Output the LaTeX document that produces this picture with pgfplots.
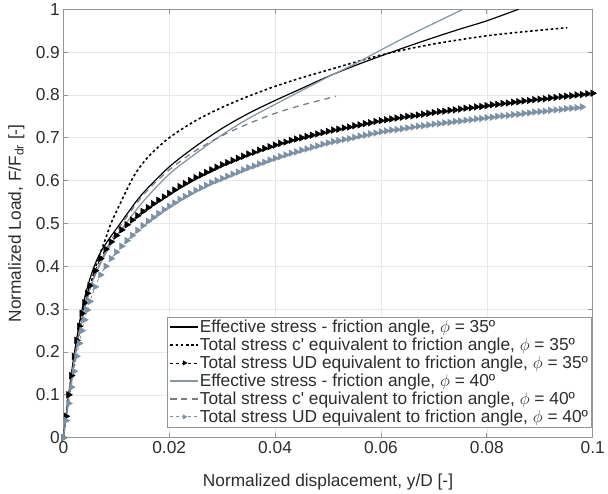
\documentclass[border=0pt]{standalone}
\usepackage{fontspec}
\setmainfont{Liberation Sans}
\usepackage{pgfplots}
\pgfplotsset{compat=1.18}
\definecolor{axgray}{RGB}{150,150,150}
\definecolor{txtgray}{RGB}{45,45,45}
\definecolor{gridgray}{RGB}{232,232,232}
\definecolor{line40}{RGB}{140,150,160}
\definecolor{dash40}{RGB}{120,125,135}
\definecolor{tri40}{RGB}{125,145,165}
\newcommand{\fs}{\fontsize{17.5bp}{17.5bp}\selectfont}
\begin{document}
\begin{tikzpicture}
\begin{axis}[
  scale only axis, width=535bp, height=433bp,
  xmin=0, xmax=0.1, ymin=0, ymax=1,
  xtick={0,0.02,0.04,0.06,0.08,0.1},
  xticklabels={0,0.02,0.04,0.06,0.08,0.1},
  ytick={0,0.1,0.2,0.3,0.4,0.5,0.6,0.7,0.8,0.9,1},
  yticklabels={0,0.1,0.2,0.3,0.4,0.5,0.6,0.7,0.8,0.9,1},
  tick label style={font=\fs, text=txtgray},
  grid=major, major grid style={gridgray, line width=0.6bp},
  axis line style={axgray, line width=0.7bp},
  tick style={axgray, line width=0.7bp},
  tick align=inside, major tick length=5bp,
  xlabel={Normalized displacement, y/D [-]},
  ylabel={Normalized Load, F/F\textsubscript{dr} [-]},
  label style={font=\fs, text=txtgray},
  xlabel style={at={(axis description cs:0.5,-0.1132)}, anchor=base},
  ylabel style={at={(axis description cs:-0.0804,0.5)}, anchor=base, rotate=0},
  legend cell align=left,
  legend style={at={(rel axis cs:0.997,0.025)}, anchor=south east, draw=axgray, fill=white,
    font=\fs, text=txtgray, row sep=2.2bp, inner sep=2bp, nodes={inner sep=0.9bp}},
  legend image code/.code={\draw[mark repeat=2,mark phase=2,#1] plot coordinates {(0bp,0bp) (14bp,0bp) (28bp,0bp)};},
]
% Effective stress 35
\addplot[black, line width=1.2bp, smooth] coordinates {
(0,0) (0.001,0.10) (0.002,0.19) (0.003,0.265) (0.004,0.325) (0.005,0.37) (0.006,0.405) (0.007,0.432) (0.008,0.452) (0.009,0.47) (0.01,0.487) (0.0125,0.53) (0.015,0.57) (0.02,0.632) (0.025,0.68) (0.03,0.722) (0.035,0.757) (0.04,0.787) (0.045,0.815) (0.05,0.843) (0.055,0.868) (0.06,0.891) (0.065,0.913) (0.07,0.934) (0.075,0.954) (0.08,0.973) (0.086,1.0)};
\addlegendentry{Effective stress - friction angle, $\phi$ = 35º}
% Total stress c' 35
\addplot[black, line width=1.6bp, dash pattern=on 2.6bp off 2.6bp, smooth] coordinates {
(0,0) (0.001,0.09) (0.002,0.17) (0.003,0.245) (0.004,0.305) (0.005,0.35) (0.0064,0.41) (0.008,0.465) (0.009,0.5) (0.0105,0.54) (0.0133,0.61) (0.016,0.655) (0.02,0.70) (0.025,0.740) (0.03,0.771) (0.035,0.797) (0.04,0.82) (0.045,0.84) (0.05,0.858) (0.055,0.876) (0.06,0.893) (0.065,0.907) (0.07,0.919) (0.075,0.929) (0.08,0.938) (0.085,0.945) (0.09,0.951) (0.0952,0.957)};
\addlegendentry{Total stress c\textquotesingle{} equivalent to friction angle, $\phi$ = 35º}
% Total stress UD 35
\addplot[black, dashed, line width=0.8bp, mark=triangle*, mark size=3.8bp, mark options={solid, rotate=-90, line width=0.5bp, fill=black}, legend image post style={mark size=2.6bp}] table {
0 0
0.0005 0.05
0.001 0.10
0.0015 0.145
0.002 0.19
0.0025 0.227
0.003 0.26
0.0035 0.29
0.004 0.315
0.0045 0.337
0.005 0.355
0.006 0.39
0.007 0.418
0.008 0.44
0.009 0.457
0.010 0.472
0.011 0.485
0.012 0.497
0.013 0.508
0.014 0.518
0.015 0.528
0.016 0.537
0.017 0.546
0.018 0.554
0.019 0.562
0.020 0.570
0.021 0.578
0.022 0.586
0.023 0.593
0.024 0.600
0.025 0.607
0.026 0.613
0.027 0.619
0.028 0.625
0.029 0.631
0.030 0.637
0.031 0.642
0.032 0.647
0.033 0.652
0.034 0.657
0.035 0.662
0.036 0.666
0.037 0.671
0.038 0.675
0.039 0.679
0.040 0.683
0.041 0.687
0.042 0.690
0.043 0.694
0.044 0.697
0.045 0.700
0.046 0.703
0.047 0.706
0.048 0.709
0.049 0.712
0.050 0.715
0.051 0.718
0.052 0.720
0.053 0.723
0.054 0.725
0.055 0.728
0.056 0.730
0.057 0.733
0.058 0.735
0.059 0.738
0.060 0.740
0.061 0.742
0.062 0.744
0.063 0.746
0.064 0.748
0.065 0.750
0.066 0.751
0.067 0.753
0.068 0.755
0.069 0.757
0.070 0.759
0.071 0.761
0.072 0.762
0.073 0.764
0.074 0.765
0.075 0.767
0.076 0.769
0.077 0.770
0.078 0.772
0.079 0.773
0.080 0.775
0.081 0.777
0.082 0.778
0.083 0.780
0.084 0.781
0.085 0.783
0.086 0.784
0.087 0.786
0.088 0.787
0.089 0.789
0.090 0.790
0.091 0.791
0.092 0.793
0.093 0.794
0.094 0.796
0.095 0.797
0.096 0.798
0.097 0.800
0.098 0.801
0.099 0.803
0.100 0.804
};
\addlegendentry{Total stress UD equivalent to friction angle, $\phi$ = 35º}
% Effective stress 40
\addplot[line40, line width=1.3bp, smooth] coordinates {
(0,0) (0.001,0.09) (0.002,0.175) (0.003,0.245) (0.004,0.30) (0.005,0.345) (0.006,0.38) (0.008,0.43) (0.01,0.47) (0.015,0.55) (0.02,0.615) (0.025,0.663) (0.03,0.707) (0.035,0.745) (0.04,0.778) (0.045,0.81) (0.05,0.842) (0.055,0.872) (0.06,0.905) (0.065,0.937) (0.07,0.967) (0.0755,1.0)};
\addlegendentry{Effective stress - friction angle, $\phi$ = 40º}
% Total stress c' 40
\addplot[dash40, line width=1.3bp, dash pattern=on 6bp off 5bp, smooth] coordinates {
(0,0) (0.001,0.09) (0.002,0.175) (0.003,0.245) (0.004,0.30) (0.005,0.345) (0.006,0.38) (0.008,0.435) (0.01,0.48) (0.015,0.565) (0.02,0.625) (0.025,0.67) (0.03,0.705) (0.035,0.733) (0.04,0.757) (0.045,0.776) (0.05,0.792) (0.0515,0.797)};
\addlegendentry{Total stress c\textquotesingle{} equivalent to friction angle, $\phi$ = 40º}
% Total stress UD 40
\addplot[tri40, dashed, line width=0.8bp, mark=triangle*, mark size=3.8bp, mark options={solid, rotate=-90, line width=0.5bp, fill=tri40}, legend image post style={mark size=2.6bp}] table {
0 0
0.0005 0.04
0.001 0.08
0.0015 0.118
0.002 0.155
0.0025 0.19
0.003 0.22
0.0035 0.25
0.004 0.275
0.0045 0.298
0.005 0.318
0.006 0.352
0.007 0.38
0.008 0.40
0.009 0.418
0.010 0.433
0.011 0.447
0.012 0.460
0.013 0.472
0.014 0.484
0.015 0.495
0.016 0.505
0.017 0.514
0.018 0.523
0.019 0.532
0.020 0.540
0.021 0.548
0.022 0.556
0.023 0.563
0.024 0.570
0.025 0.577
0.026 0.583
0.027 0.589
0.028 0.595
0.029 0.600
0.030 0.605
0.031 0.610
0.032 0.615
0.033 0.620
0.034 0.625
0.035 0.630
0.036 0.634
0.037 0.639
0.038 0.643
0.039 0.648
0.040 0.652
0.041 0.656
0.042 0.660
0.043 0.664
0.044 0.667
0.045 0.671
0.046 0.674
0.047 0.678
0.048 0.681
0.049 0.685
0.050 0.688
0.051 0.691
0.052 0.693
0.053 0.696
0.054 0.698
0.055 0.701
0.056 0.704
0.057 0.706
0.058 0.709
0.059 0.711
0.060 0.714
0.061 0.716
0.062 0.718
0.063 0.719
0.064 0.721
0.065 0.723
0.066 0.725
0.067 0.727
0.068 0.728
0.069 0.730
0.070 0.732
0.071 0.733
0.072 0.735
0.073 0.736
0.074 0.738
0.075 0.739
0.076 0.741
0.077 0.742
0.078 0.744
0.079 0.745
0.080 0.747
0.081 0.748
0.082 0.750
0.083 0.751
0.084 0.752
0.085 0.754
0.086 0.755
0.087 0.757
0.088 0.758
0.089 0.760
0.090 0.761
0.091 0.762
0.092 0.764
0.093 0.765
0.094 0.766
0.095 0.768
0.096 0.769
0.097 0.770
0.098 0.772
};
\addlegendentry{Total stress UD equivalent to friction angle, $\phi$ = 40º}
\end{axis}
\path[use as bounding box] (-64bp,-53bp) rectangle (544bp,440bp);
\end{tikzpicture}
\end{document}
